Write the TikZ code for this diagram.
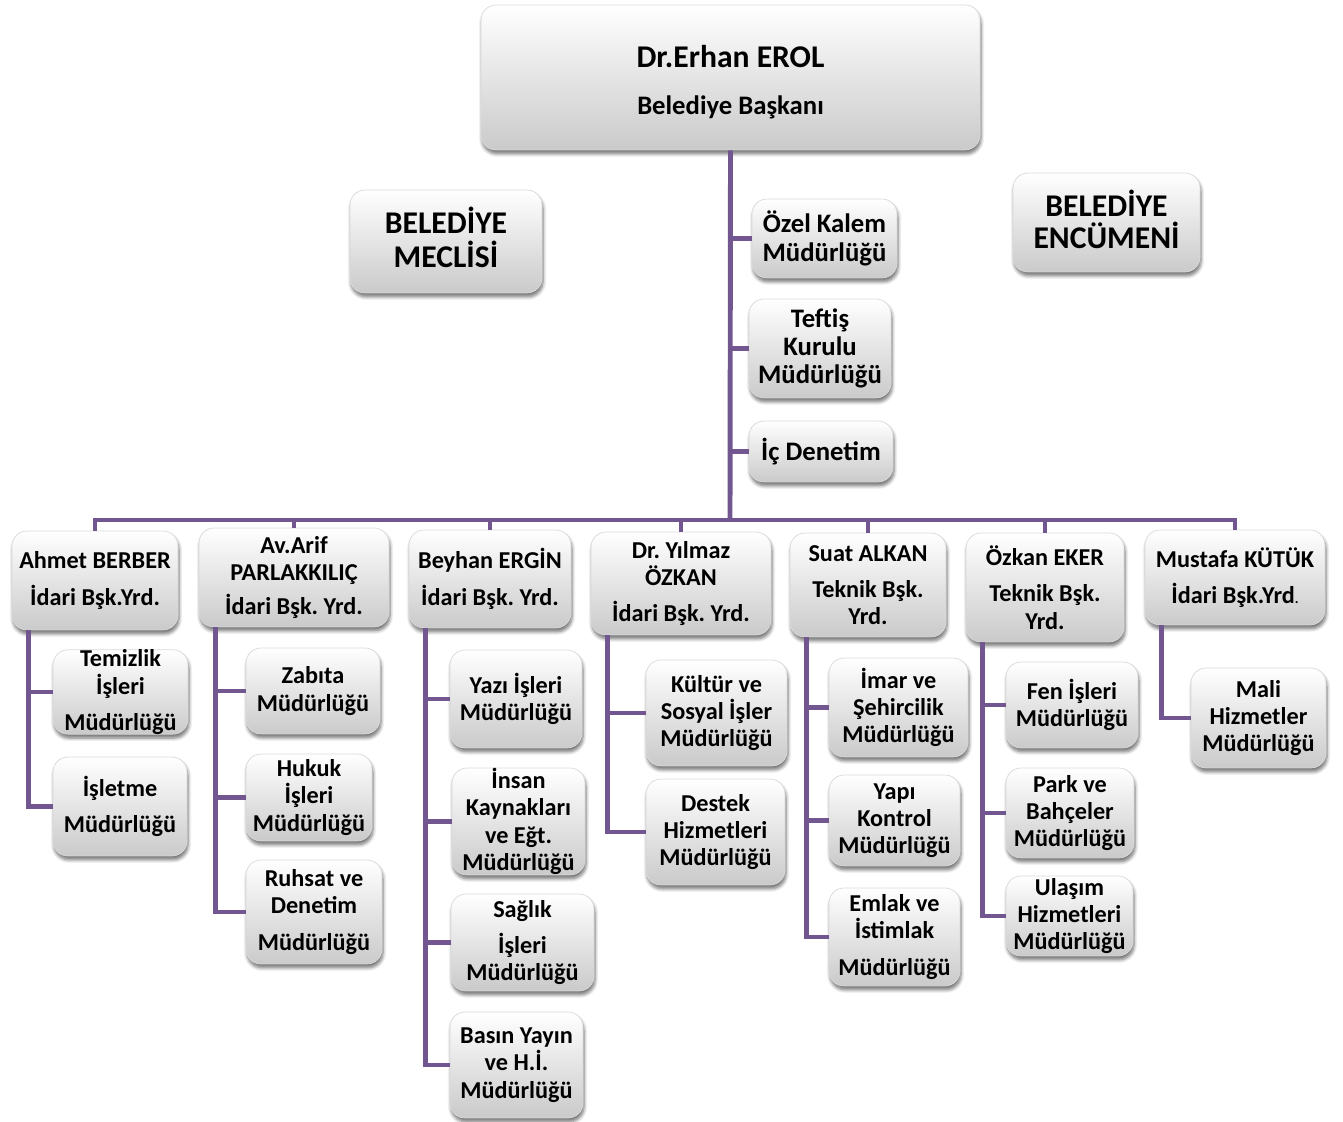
\documentclass[tikz,border=0pt]{standalone}
\usepackage{fontspec}
\setmainfont{Carlito}
\frenchspacing
\usetikzlibrary{shadows.blur}
\definecolor{orgpurple}{RGB}{114, 86, 144}
\definecolor{boxgray}{RGB}{202, 202, 202}
\tikzset{
  orgbox/.style={rounded corners=0.3cm, draw=gray!30, thin,
    top color=white, bottom color=boxgray,
    blur shadow={shadow xshift=0.6pt, shadow yshift=-2.2pt, shadow blur steps=6, shadow opacity=55},
    align=center, inner sep=0pt,
    font=\fontsize{13.8}{15.5}\selectfont\bfseries},
  staffbox/.style={orgbox, font=\fontsize{15.2}{15.8}\selectfont\bfseries},
  bigbox/.style={orgbox, font=\fontsize{18}{19.5}\selectfont\bfseries},
  orglink/.style={orgpurple, line width=2.8pt},
}

\begin{document}
\begin{tikzpicture}[x=0.02cm, y=-0.02cm]
\useasboundingbox (0,0) rectangle (1343,1122);

% Mayor and staff units
\node[orgbox, minimum width=9.98cm, minimum height=2.9cm] (baskan) at (730.5,77.5)
  {{\fontsize{18}{19.5}\selectfont\rule{0pt}{18pt}Dr.Erhan EROL}\\[11.4pt] {\fontsize{15.2}{15.8}\selectfont Belediye Başkanı}};
\node[bigbox, minimum width=3.84cm, minimum height=2.06cm] (meclis) at (446,241.5) {BELEDİYE\\MECLİSİ\rule[-4.5pt]{0pt}{4.5pt}};
\node[bigbox, minimum width=3.74cm, minimum height=1.98cm] (encumen) at (1106.5,222.5) {BELEDİYE\\[-1.4pt]ENCÜMENİ\rule[-4pt]{0pt}{4pt}};
\node[staffbox, minimum width=2.9cm, minimum height=1.58cm] (ozel) at (824.5,238.5) {Özel Kalem\\[1pt]Müdürlüğü};
\node[staffbox, minimum width=2.84cm, minimum height=1.98cm] (teftis) at (820,348.5) {Teftiş\\Kurulu\\Müdürlüğü};
\node[staffbox, minimum width=2.88cm, minimum height=1.22cm] (icdenetim) at (821,451.5) {İç Denetim};

% Deputy mayors
\node[orgbox, minimum width=3.32cm, minimum height=1.98cm] (ahmet) at (95,580.5) {Ahmet BERBER\\[5.2pt]İdari Bşk.Yrd.};
\node[orgbox, minimum width=3.8cm, minimum height=1.98cm] (arif) at (294,577.5) {Av.Arif\\PARLAKKILIÇ\\[4pt]İdari Bşk. Yrd.};
\node[orgbox, minimum width=3.24cm, minimum height=1.96cm] (beyhan) at (490,579) {Beyhan ERGİN\\[5.2pt]İdari Bşk. Yrd.};
\node[orgbox, minimum width=3.6cm, minimum height=2.06cm] (yilmaz) at (681,583.5) {Dr. Yılmaz\\ÖZKAN\\[5pt]İdari Bşk. Yrd.};
\node[orgbox, minimum width=3.12cm, minimum height=2.08cm] (suat) at (868,585) {Suat ALKAN\\[5.2pt]Teknik Bşk.\\Yrd.};
\node[orgbox, minimum width=3.16cm, minimum height=2.18cm] (ozkan) at (1045,587.5) {Özkan EKER\\[5.2pt]Teknik Bşk.\\Yrd.};
\node[orgbox, minimum width=3.6cm, minimum height=1.9cm] (mustafa) at (1235,577.5) {Mustafa KÜTÜK\\[5.2pt]İdari Bşk.Yrd{\footnotesize.}};

% Directorates
\node[orgbox, minimum width=2.7cm, minimum height=1.68cm] (temizlik) at (120.5,692) {Temizlik\\İşleri\\[5pt]Müdürlüğü};
\node[orgbox, minimum width=2.68cm, minimum height=1.98cm] (isletme) at (120,806.5) {İşletme\\[5.2pt]Müdürlüğü};
\node[orgbox, minimum width=2.68cm, minimum height=1.72cm] (zabita) at (313,691) {Zabıta\\Müdürlüğü};
\node[orgbox, minimum width=2.52cm, minimum height=1.74cm] (hukuk) at (309,797.5) {Hukuk\\İşleri\\Müdürlüğü};
\node[orgbox, minimum width=2.72cm, minimum height=2.08cm] (ruhsat) at (314,912) {Ruhsat ve\\Denetim\\[5.2pt]Müdürlüğü};
\node[orgbox, minimum width=2.64cm, minimum height=1.96cm] (yazi) at (516,699) {Yazı İşleri\\Müdürlüğü};
\node[orgbox, minimum width=2.66cm, minimum height=2.14cm] (insan) at (518.5,821.5) {İnsan\\Kaynakları\\ve Eğt.\\Müdürlüğü};
\node[orgbox, minimum width=2.86cm, minimum height=1.94cm] (saglik) at (522.5,942.5) {Sağlık\\[5.2pt]İşleri\\Müdürlüğü};
\node[orgbox, minimum width=2.66cm, minimum height=2.12cm] (basin) at (516.5,1065) {Basın Yayın\\ve H.İ.\\Müdürlüğü};
\node[orgbox, minimum width=2.82cm, minimum height=2.12cm] (kultur) at (716.5,713) {Kültür ve\\Sosyal İşler\\Müdürlüğü};
\node[orgbox, minimum width=2.78cm, minimum height=2.12cm] (destek) at (715.5,832) {Destek\\Hizmetleri\\Müdürlüğü};
\node[orgbox, minimum width=2.78cm, minimum height=1.98cm] (imar) at (898.5,707.5) {İmar ve\\Şehircilik\\Müdürlüğü};
\node[orgbox, minimum width=2.62cm, minimum height=1.82cm] (yapi) at (894.5,820.5) {Yapı\\Kontrol\\Müdürlüğü};
\node[orgbox, minimum width=2.62cm, minimum height=1.96cm] (emlak) at (894.5,937) {Emlak ve\\İstimlak\\[5.2pt]Müdürlüğü};
\node[orgbox, minimum width=2.64cm, minimum height=1.72cm] (fen) at (1072,705) {Fen İşleri\\Müdürlüğü};
\node[orgbox, minimum width=2.56cm, minimum height=1.8cm] (park) at (1070,813) {Park ve\\Bahçeler\\Müdürlüğü};
\node[orgbox, minimum width=2.54cm, minimum height=1.6cm] (ulasim) at (1069.5,916) {Ulaşım\\Hizmetleri\\Müdürlüğü};
\node[orgbox, minimum width=2.7cm, minimum height=2cm] (mali) at (1258.5,718) {Mali\\Hizmetler\\Müdürlüğü};

% Connectors
\coordinate (busmid) at (730,520);
\draw[orglink] (baskan.south) -- (busmid);
\foreach \n in {ozel,teftis,icdenetim}
  \draw[orglink] (\n.west) -- (\n.west -| busmid);
\draw[orglink] (ahmet.north) -- (ahmet.north |- busmid) -- (mustafa.north |- busmid) -- (mustafa.north);
\foreach \n in {arif,beyhan,yilmaz,suat,ozkan}
  \draw[orglink] (\n.north) -- (\n.north |- busmid);

\foreach \head/\kid in {ahmet/temizlik, ahmet/isletme, arif/zabita, arif/hukuk, arif/ruhsat,
    beyhan/yazi, beyhan/insan, beyhan/saglik, beyhan/basin, yilmaz/kultur, yilmaz/destek,
    suat/imar, suat/yapi, suat/emlak, ozkan/fen, ozkan/park, ozkan/ulasim, mustafa/mali}
  \draw[orglink] ([xshift=0.34cm]\head.south west) |- (\kid.west);
\end{tikzpicture}
\end{document}
